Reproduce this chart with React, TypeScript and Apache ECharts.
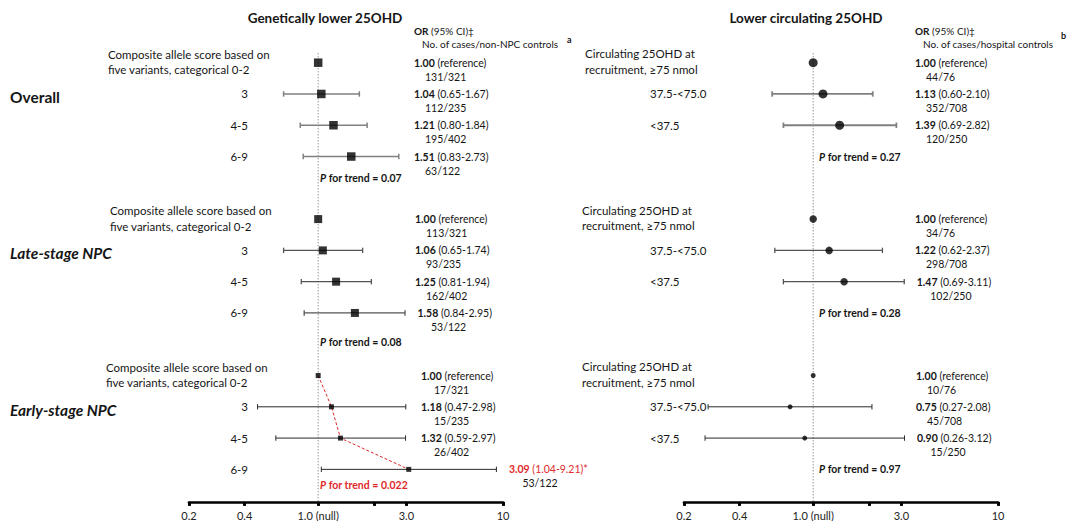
import React, { useEffect, useRef } from 'react';
import * as echarts from 'echarts';

// ---------------- data ----------------
const groupNames = ['Overall', 'Late-stage NPC', 'Early-stage NPC'];

const scoreCategories = ['Composite allele score based on\nfive variants, categorical 0-2', '3', '4-5', '6-9'];
const genOverallOR = [1.0, 1.04, 1.21, 1.51];
const genOverallLow = [null, 0.65, 0.8, 0.83];
const genOverallHigh = [null, 1.67, 1.84, 2.73];
const genOverallCounts = ['131/321', '112/235', '195/402', '63/122'];
const genLateOR = [1.0, 1.06, 1.25, 1.58];
const genLateLow = [null, 0.65, 0.81, 0.84];
const genLateHigh = [null, 1.74, 1.94, 2.95];
const genLateCounts = ['113/321', '93/235', '162/402', '53/122'];
const genEarlyOR = [1.0, 1.18, 1.32, 3.09];
const genEarlyLow = [null, 0.47, 0.59, 1.04];
const genEarlyHigh = [null, 2.98, 2.97, 9.21];
const genEarlyCounts = ['17/321', '15/235', '26/402', '53/122'];
const genTrendP = ['0.07', '0.08', '0.022'];

const circCategories = ['Circulating 25OHD at\nrecruitment, ≥75 nmol', '37.5-<75.0', '<37.5'];
const circOverallOR = [1.0, 1.13, 1.39];
const circOverallLow = [null, 0.6, 0.69];
const circOverallHigh = [null, 2.1, 2.82];
const circOverallCounts = ['44/76', '352/708', '120/250'];
const circLateOR = [1.0, 1.22, 1.47];
const circLateLow = [null, 0.62, 0.69];
const circLateHigh = [null, 2.37, 3.11];
const circLateCounts = ['34/76', '298/708', '102/250'];
const circEarlyOR = [1.0, 0.75, 0.9];
const circEarlyLow = [null, 0.27, 0.26];
const circEarlyHigh = [null, 2.08, 3.12];
const circEarlyCounts = ['10/76', '45/708', '15/250'];
const circTrendP = ['0.27', '0.28', '0.97'];

const panelTitles = ['Genetically lower 25OHD', 'Lower circulating 25OHD'];
const headerOR = 'OR (95% CI)‡';
const headerCounts = ['No. of cases/non-NPC controls', 'No. of cases/hospital controls'];
const headerNotes = ['a', 'b'];

const tickValues = [0.2, 0.4, 1, 2, 3, 10];
const tickLabelValues = [0.2, 0.4, 1, 3, 10];
const tickLabels = ['0.2', '0.4', '1.0 (null)', '3.0', '10'];

// ---------------- layout / style ----------------
const FONT = 'Lato, "Open Sans", sans-serif';
const TXT = '#161616';
const RED = '#e0292b';
const GRID_TOP = 31.4;
const GRID_H = 470.5;
const Y_MIN = -1;
const Y_MAX = 14.04;
const GRID_W = 314;
const GRID_LEFT = [189, 684];
const X_MIN = 0.2;
const X_MAX = 10;

const rowY = (r: number) => GRID_TOP + ((r - Y_MIN) / (Y_MAX - Y_MIN)) * GRID_H;
const xPix = (panel: number, v: number) =>
  GRID_LEFT[panel] + ((Math.log10(v) - Math.log10(X_MIN)) / (Math.log10(X_MAX) - Math.log10(X_MIN))) * GRID_W;

const whiskerColors = ['#808080', '#555555', '#2a2a2a'];
const whiskerWidths = [[1.5, 1.3, 1.0], [1.8, 1.3, 1.0]];
const markerSizes = [[8.5, 8, 5], [9, 7.5, 5]];

function text(t: string, x: number, y: number, o: any = {}) {
  const size = o.size ?? 10.5;
  const fill = o.fill ?? TXT;
  return {
    type: 'text',
    x,
    y,
    silent: true,
    z: 10,
    style: {
      text: t,
      fill,
      fontSize: size,
      fontFamily: FONT,
      fontWeight: o.weight ?? 'normal',
      fontStyle: o.italic ? 'italic' : 'normal',
      align: o.align ?? 'left',
      verticalAlign: 'middle',
      rich: {
        b: { fontWeight: 'bold', fontSize: size, fontFamily: FONT, fill },
        bi: { fontWeight: 'bold', fontStyle: 'italic', fontSize: size, fontFamily: FONT, fill },
      },
    },
  };
}

function buildOption() {
  const panels = [
    {
      cats: scoreCategories,
      symbol: 'rect',
      groups: [
        { or: genOverallOR, lo: genOverallLow, hi: genOverallHigh, n: genOverallCounts },
        { or: genLateOR, lo: genLateLow, hi: genLateHigh, n: genLateCounts },
        { or: genEarlyOR, lo: genEarlyLow, hi: genEarlyHigh, n: genEarlyCounts },
      ],
      p: genTrendP,
    },
    {
      cats: circCategories,
      symbol: 'circle',
      groups: [
        { or: circOverallOR, lo: circOverallLow, hi: circOverallHigh, n: circOverallCounts },
        { or: circLateOR, lo: circLateLow, hi: circLateHigh, n: circLateCounts },
        { or: circEarlyOR, lo: circEarlyLow, hi: circEarlyHigh, n: circEarlyCounts },
      ],
      p: circTrendP,
    },
  ];

  // text layout per panel
  const firstCatX = [[108, 110, 106], [585, 582, 582]];
  const firstCatDy = [[-8.3, 7], [-9, 6.5]];
  const orX = [[414, 415, 421], [915, 915, 916]];
  const countX = [[425, 426, 434], [926, 926, 927]];
  const leftTrendY = [178, 342, 485];
  const trendX = [320, 819];
  const titleX = [325, 806];
  const headerX = [[414, 422, 567], [915, 923, 1061]];
  const headerY = [[31, 44, 39], [31, 44, 35]];

  const grid: any[] = [];
  const xAxis: any[] = [];
  const yAxis: any[] = [];
  const series: any[] = [];
  const elements: any[] = [];

  panels.forEach((panel, pi) => {
    grid.push({ left: GRID_LEFT[pi], top: GRID_TOP, width: GRID_W, height: GRID_H });
    xAxis.push({
      type: 'value',
      gridIndex: pi,
      min: Math.log10(X_MIN),
      max: Math.log10(X_MAX),
      position: 'bottom',
      axisLine: { show: true, onZero: false, lineStyle: { color: '#000', width: 2.7 } },
      axisTick: {
        show: true,
        inside: false,
        length: 4,
        lineStyle: { color: '#000', width: 3 },
        customValues: tickValues.map((v) => Math.log10(v)),
      },
      axisLabel: {
        customValues: tickLabelValues.map((v) => Math.log10(v)),
        fontSize: 11,
        fontFamily: FONT,
        color: '#222',
        margin: 8,
        formatter: (v: number) => {
          let best = 0;
          tickLabelValues.forEach((t, i) => {
            if (Math.abs(Math.log10(t) - v) < Math.abs(Math.log10(tickLabelValues[best]) - v)) best = i;
          });
          return tickLabels[best];
        },
      },
      splitLine: { show: false },
    });
    yAxis.push({ type: 'value', gridIndex: pi, min: Y_MIN, max: Y_MAX, inverse: true, show: false });

    // null reference line
    series.push({
      type: 'line',
      xAxisIndex: pi,
      yAxisIndex: pi,
      data: [[0, -0.3], [0, Y_MAX]],
      symbol: 'none',
      silent: true,
      z: 1,
      lineStyle: { color: '#666', width: 1, type: [1, 2] },
    });

    // whiskers
    const whiskerData: any[] = [];
    panel.groups.forEach((g, gi) => {
      g.or.forEach((_, i) => {
        if (g.lo[i] != null && g.hi[i] != null) {
          whiskerData.push([Math.log10(g.lo[i] as number), Math.log10(g.hi[i] as number), gi * 5 + i, gi]);
        }
      });
    });
    series.push({
      type: 'custom',
      xAxisIndex: pi,
      yAxisIndex: pi,
      silent: true,
      z: 2,
      clip: false,
      encode: { x: [0, 1], y: 2 },
      data: whiskerData,
      renderItem: (params: any, api: any) => {
        const y = api.value(2);
        const a = api.coord([api.value(0), y]);
        const b = api.coord([api.value(1), y]);
        const gi = api.value(3);
        const st = { stroke: whiskerColors[gi], lineWidth: whiskerWidths[pi][gi] };
        const c = 2.7;
        return {
          type: 'group',
          children: [
            { type: 'line', shape: { x1: a[0], y1: a[1], x2: b[0], y2: b[1] }, style: st },
            { type: 'line', shape: { x1: a[0], y1: a[1] - c, x2: a[0], y2: a[1] + c }, style: st },
            { type: 'line', shape: { x1: b[0], y1: b[1] - c, x2: b[0], y2: b[1] + c }, style: st },
          ],
        };
      },
    });

    panel.groups.forEach((g, gi) => {
      const pts = g.or.map((v, i) => [Math.log10(v), gi * 5 + i]);
      // markers
      series.push({
        type: 'scatter',
        xAxisIndex: pi,
        yAxisIndex: pi,
        symbol: panel.symbol,
        symbolSize: markerSizes[pi][gi],
        itemStyle: { color: '#000' },
        silent: true,
        z: 5,
        data: pts,
      });
      // significant trend line (red dashed)
      if (pi === 0 && parseFloat(panel.p[gi]) < 0.05) {
        series.push({
          type: 'line',
          xAxisIndex: pi,
          yAxisIndex: pi,
          data: pts,
          symbol: 'none',
          silent: true,
          z: 3,
          lineStyle: { color: RED, width: 1, type: [3, 2] },
        });
      }

      // texts
      const base = gi * 5;
      if (pi === 0) {
        elements.push(text(groupNames[gi], 10, rowY(base + 1) + 3, { size: 15.5, weight: 'bold', italic: gi > 0 }));
      }
      panel.cats.forEach((cat, i) => {
        const y = rowY(base + i);
        if (i === 0) {
          const lines = cat.split('\n');
          elements.push(text(lines[0], firstCatX[pi][gi], y + firstCatDy[pi][0], { size: 11.5 }));
          elements.push(text(lines[1], firstCatX[pi][gi], y + firstCatDy[pi][1], { size: 11.5 }));
        } else if (pi === 0) {
          elements.push(text(cat, 248, y, { size: 11.5, align: 'right' }));
        } else {
          elements.push(text(cat, 650, y, { size: 11.5 }));
        }
        const or = g.or[i];
        const lo = g.lo[i];
        const hi = g.hi[i];
        let x = orX[pi][gi];
        let cx = countX[pi][gi];
        let label: string;
        let fill = TXT;
        if (lo == null || hi == null) {
          label = `{b|${or.toFixed(2)}} (reference)`;
        } else {
          const sig = lo > 1 || hi < 1;
          label = `{b|${or.toFixed(2)}} (${lo.toFixed(2)}-${hi.toFixed(2)})${sig ? '*' : ''}`;
          if (sig) fill = RED;
          const edge = xPix(pi, hi) + 12.5;
          if (edge > x) {
            cx = edge + 13.5;
            x = edge;
          }
        }
        elements.push(text(label, x, y, { fill }));
        elements.push(text(g.n[i], cx, y + 14));
      });
      const p = panel.p[gi];
      const pFill = parseFloat(p) < 0.05 ? RED : TXT;
      const py = pi === 0 ? leftTrendY[gi] : rowY(base + 3);
      elements.push(text(`{bi|P}{b| for trend = ${p}}`, trendX[pi], py, { fill: pFill }));
    });

    // titles & headers
    elements.push(text(panelTitles[pi], titleX[pi], 18, { size: 13.5, weight: 'bold', align: 'center' }));
    elements.push(text(`{b|OR}${headerOR.slice(2)}`, headerX[pi][0], headerY[pi][0], { size: 10 }));
    elements.push(text(headerCounts[pi], headerX[pi][1], headerY[pi][1], { size: 10 }));
    elements.push(text(headerNotes[pi], headerX[pi][2], headerY[pi][2], { size: 9, weight: 'bold' }));
  });

  return {
    animation: false,
    backgroundColor: '#fff',
    grid,
    xAxis,
    yAxis,
    series,
    graphic: { elements },
  };
}

export default function App() {
  const ref = useRef<HTMLDivElement>(null);
  useEffect(() => {
    const chart = echarts.init(ref.current as HTMLDivElement, undefined, { renderer: 'svg' });
    chart.setOption(buildOption() as any);
    return () => chart.dispose();
  }, []);
  return (
    <div
      ref={ref}
      style={{ position: 'fixed', left: 0, top: 0, width: 1069, height: 521, background: '#fff' }}
    />
  );
}
